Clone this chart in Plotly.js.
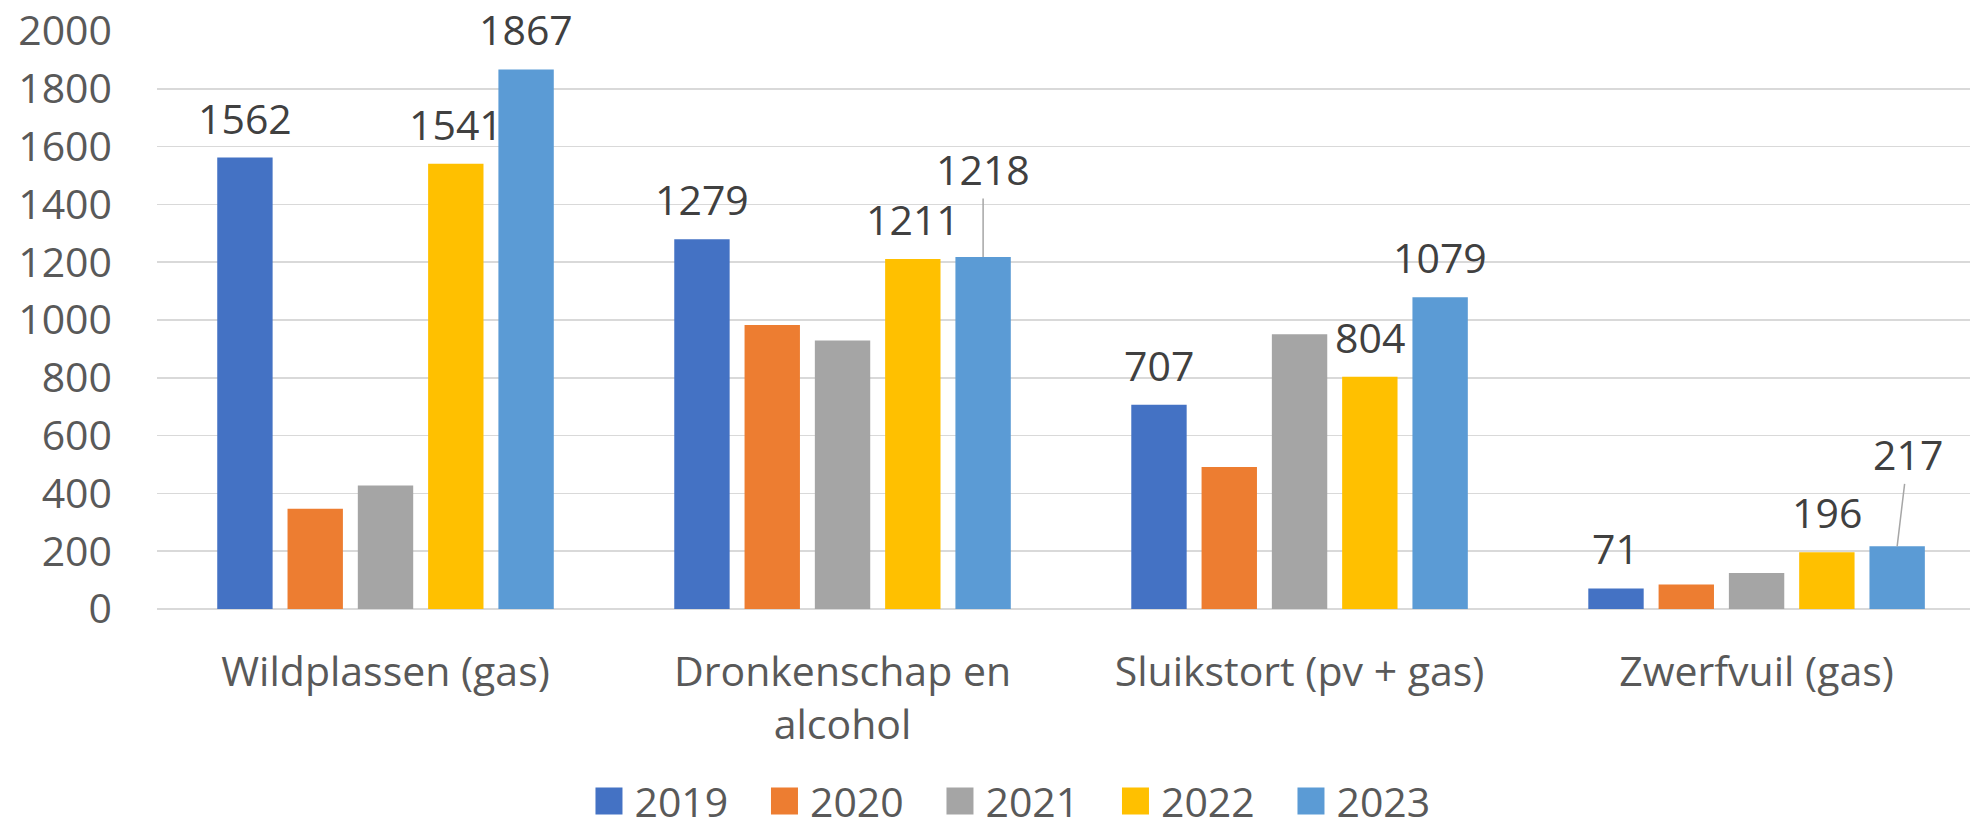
<!DOCTYPE html>
<html>
<head>
<meta charset="utf-8">
<script src="https://cdn.plot.ly/plotly-3.0.1.min.js"></script>
<style>
  html, body { margin: 0; padding: 0; background: #ffffff; overflow: hidden; }
  #chart { width: 1970px; height: 828px; }
</style>
</head>
<body>
<div id="chart"></div>
<script>
// ---- data ----
const categories = ["Wildplassen (gas)", "Dronkenschap en<br>alcohol", "Sluikstort (pv + gas)", "Zwerfvuil (gas)"];
const seriesNames = ["2019", "2020", "2021", "2022", "2023"];
const values2019 = [1562, 1279, 707, 71];
const values2020 = [347, 983, 491, 85];
const values2021 = [427, 929, 951, 125];
const values2022 = [1541, 1211, 804, 196];
const values2023 = [1867, 1218, 1079, 217];
const yTickValues = [0, 200, 400, 600, 800, 1000, 1200, 1400, 1600, 1800, 2000];
// which series carry data labels
const seriesWithLabels = ["2019", "2022", "2023"];

// ---- styling ----
const seriesValues = [values2019, values2020, values2021, values2022, values2023];
const colors = ["#4472C4", "#ED7D31", "#A5A5A5", "#FFC000", "#5B9BD5"];
const FONT = "Open Sans, Noto Sans, sans-serif";
const FS = 41;
const BARGAP = 0.231;
const BARGROUPGAP = 0.212;
// labels moved away from their bar with a leader line: [series, category index, dx px, dy px]
const leaderLabels = [["2023", 1, 0, -88], ["2023", 3, 11, -92]];

const traces = seriesNames.map((name, i) => ({
  type: "bar",
  name: name,
  x: categories,
  y: seriesValues[i],
  marker: { color: colors[i], line: { width: 0 } },
  hoverinfo: "skip"
}));

const slot = (1 - BARGAP) / seriesNames.length;
const annotations = [];
seriesNames.forEach((name, i) => {
  if (!seriesWithLabels.includes(name)) return;
  seriesValues[i].forEach((v, c) => {
    const xpos = c + (i - (seriesNames.length - 1) / 2) * slot;
    const lead = leaderLabels.find(l => l[0] === name && l[1] === c);
    const a = {
      x: xpos, y: v, xref: "x", yref: "y",
      text: String(v),
      font: { family: FONT, size: FS, color: "#404040" }
    };
    if (lead) {
      Object.assign(a, {
        showarrow: true, ax: lead[2], ay: lead[3], axref: "pixel", ayref: "pixel",
        arrowhead: 0, arrowwidth: 1.5, arrowcolor: "#a6a6a6", standoff: 0, startstandoff: 0
      });
    } else {
      Object.assign(a, { showarrow: false, yanchor: "middle", xanchor: "center", yshift: 40 });
    }
    annotations.push(a);
  });
});

const layout = {
  width: 1970, height: 828,
  margin: { l: 157, r: 0, t: 31, b: 218.5, pad: 0, autoexpand: false },
  paper_bgcolor: "#ffffff", plot_bgcolor: "#ffffff",
  font: { family: FONT, size: FS, color: "#595959" },
  barmode: "group",
  bargap: BARGAP,
  bargroupgap: BARGROUPGAP,
  showlegend: true,
  legend: {
    orientation: "h",
    x: 0.2413, xanchor: "left",
    y: -0.333, yanchor: "middle",
    font: { family: FONT, size: FS, color: "#595959" },
    entrywidth: 130.5, entrywidthmode: "pixels",
    itemclick: false, itemdoubleclick: false,
    bgcolor: "rgba(0,0,0,0)"
  },
  xaxis: {
    type: "category",
    range: [-0.5, 3.467],
    showgrid: false,
    showline: false,
    zeroline: false,
    ticks: "",
    tickfont: { family: FONT, size: FS, color: "#595959" },
    ticklabelstandoff: 35,
    fixedrange: true
  },
  yaxis: {
    range: [0, 2000],
    tickmode: "array",
    tickvals: yTickValues,
    ticktext: yTickValues.map(String),
    showgrid: true,
    gridcolor: "#d9d9d9",
    gridwidth: 1.5,
    zeroline: true,
    zerolinecolor: "#d9d9d9",
    zerolinewidth: 1.5,
    showline: false,
    ticks: "",
    tickfont: { family: FONT, size: FS, color: "#595959" },
    ticklabelstandoff: 44,
    fixedrange: true
  },
  annotations: annotations
};

function enlargeLegendSymbols() {
  document.querySelectorAll(".legend .traces").forEach(g => {
    const txt = g.querySelector("text.legendtext");
    if (!txt) return;
    const tr = txt.getBoundingClientRect();
    g.querySelectorAll(".legendpoints path").forEach(p => {
      p.setAttribute("d", "M0,13.5H-27V-13.5H0Z");
      const pr = p.getBoundingClientRect();
      const shift = (tr.left - 12) - pr.right;
      p.setAttribute("d", "M" + shift + ",13.5H" + (shift - 27) + "V-13.5H" + shift + "Z");
    });
  });
}

Plotly.newPlot("chart", traces, layout, { displayModeBar: false, staticPlot: true }).then(enlargeLegendSymbols);
</script>
</body>
</html>
